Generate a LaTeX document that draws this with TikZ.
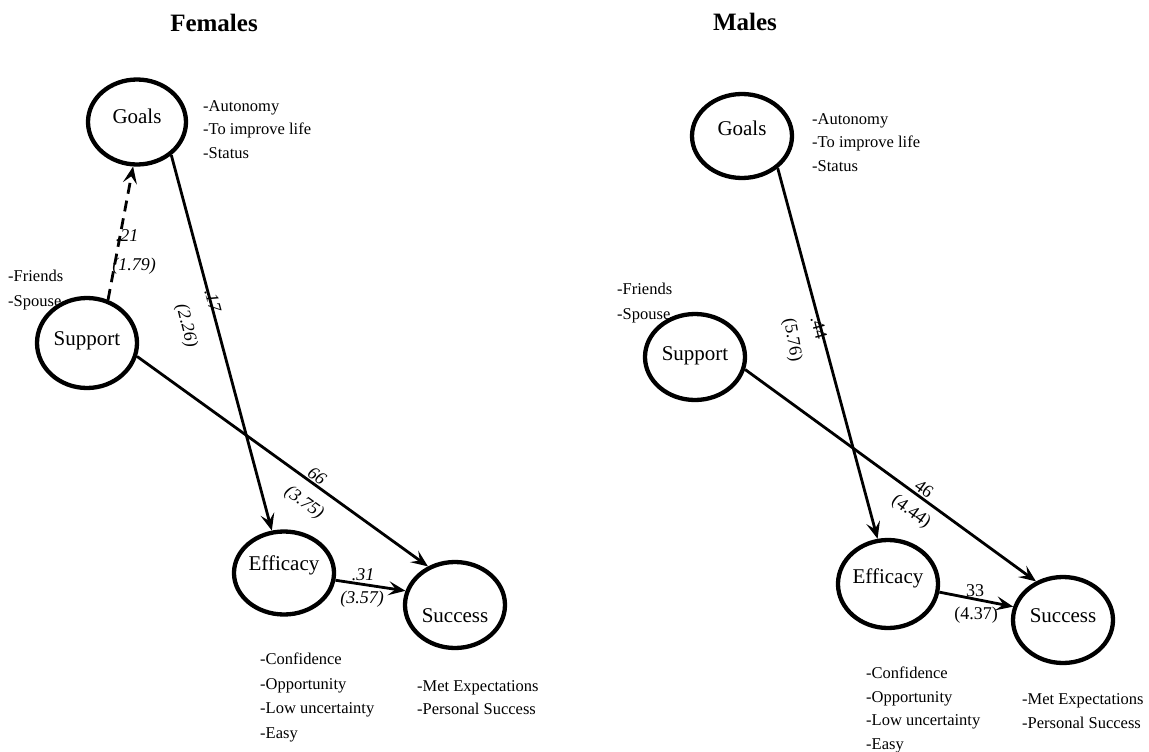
\documentclass[tikz,border=0pt]{standalone}
\usepackage{fontspec}
\setmainfont{Liberation Serif}
\usetikzlibrary{shapes.geometric,arrows.meta}
\tikzset{
  var/.style={ellipse, draw, line width=4.3pt, inner sep=0pt,
    font=\fontsize{21}{21}\selectfont, text height=15pt, text depth=5pt},
  sz/.style 2 args={minimum width=#1pt, minimum height=#2pt},
  link/.style={line width=2.8pt, -{Stealth[length=17pt,width=14pt,inset=7pt]}},
  hyp/.style={link, dash pattern=on 11pt off 7pt},
  lst/.style={font=\fontsize{16.5}{#1}\selectfont, align=left, anchor=north west, inner sep=0pt},
  coef/.style={font=\fontsize{18}{18}\selectfont, inner sep=0pt},
  fcoef/.style={font=\fontsize{18}{18}\selectfont\itshape, inner sep=0pt},
  ttl/.style={font=\fontsize{25}{25}\selectfont\bfseries, inner sep=0pt},
}
\begin{document}
\begin{tikzpicture}[x=1pt, y=-1pt]
\useasboundingbox (0,0) rectangle (1149,752);

% ---------------- Females ----------------
\node[ttl] (ftitle) at (214,23) {Females};

\node[var, sz={98}{85}, text depth=13pt] (fgoa) at (137,122) {Goals};
\node[var, sz={100}{90}, text depth=11pt] (fsup) at (87,343) {Support};
\node[var, sz={98}{83}, text depth=21pt] (feff) at (284,573) {Efficacy};
\node[var, sz={100}{86}, text height=39pt] (fsuc) at (455,605) {Success};

\node[lst=23.5] (fgoalist) at (203,100) {-Autonomy\\-To improve life\\-Status};
\node[lst=25] (fsuplist) at (8,270) {-Friends\\-Spouse};
\node[lst=24.5] (fefflist) at (260,653) {-Confidence\\-Opportunity\\-Low uncertainty\\-Easy};
\node[lst=23.5] (fsuclist) at (417,680) {-Met Expectations\\-Personal Success};

\draw[hyp] (fsup.64) -- (fgoa.-95);
\draw[link] (fgoa.-44) -- (feff.106);
\draw[link] (fsup.-15) -- (fsuc.125);
\draw[link] (feff.-8) -- (fsuc.164);

\node[fcoef] (fsg1) at (127,236) {.21};
\node[fcoef] (fsg2) at (134,266) {(1.79)};
\node[fcoef, rotate=-75] (fge1) at (213,301) {.17};
\node[fcoef, rotate=-76] (fge2) at (186,326) {(2.26)};
\node[fcoef, rotate=-36] (fss1) at (317,476) {66};
\node[fcoef, rotate=-36] (fss2) at (304,503) {(3.75)};
\node[fcoef] (fes1) at (363,575) {.31};
\node[fcoef] (fes2) at (362,599) {(3.57)};

% ---------------- Males ----------------
\node[ttl] (mtitle) at (745,22) {Males};

\node[var, sz={100}{84}, text depth=17pt] (mgoa) at (742,136) {Goals};
\node[var, sz={100}{86}, text depth=9pt] (msup) at (695,357) {Support};
\node[var, sz={99}{88}, text depth=17pt] (meff) at (888,584) {Efficacy};
\node[var, sz={100}{86}, text depth=11pt] (msuc) at (1063,620) {Success};

\node[lst=23.5] (mgoalist) at (812,113) {-Autonomy\\-To improve life\\-Status};
\node[lst=25] (msuplist) at (617,283) {-Friends\\-Spouse};
\node[lst=23.5] (mefflist) at (866,667) {-Confidence\\-Opportunity\\-Low uncertainty\\-Easy};
\node[lst=24] (msuclist) at (1022,693) {-Met Expectations\\-Personal Success};

\draw[link] (mgoa.-42) -- (meff.103);
\draw[link] (msup.-14) -- (msuc.125);
\draw[link] (meff.-9) -- (msuc.165);

\node[coef, rotate=-75] (mge1) at (819,328) {.44};
\node[coef, rotate=-80] (mge2) at (792,340) {(5.76)};
\node[coef, rotate=-36] (mss1) at (924,489) {46};
\node[coef, rotate=-36] (mss2) at (911,512) {(4.44)};
\node[coef] (mes1) at (975,591) {33};
\node[coef] (mes2) at (976,615) {(4.37)};
\end{tikzpicture}
\end{document}
